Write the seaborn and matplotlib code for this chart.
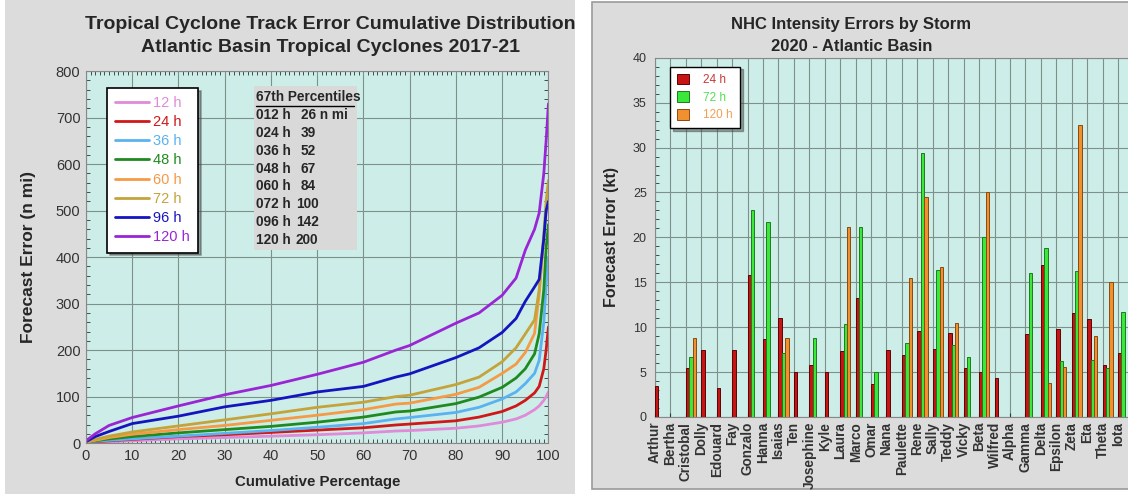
import numpy as np
import pandas as pd
import matplotlib
matplotlib.use("Agg")
import matplotlib.pyplot as plt
from matplotlib.patches import Rectangle
from matplotlib.lines import Line2D
from matplotlib.ticker import MultipleLocator
import seaborn as sns

# --- left panel data: cumulative distribution of track errors (n mi) ---
pct = [0, 2, 5, 10, 20, 30, 40, 50, 60, 67, 70, 80, 85, 90, 93, 95, 97, 98, 99, 99.5, 100]
err_12 = [0, 2, 3, 5, 9, 12, 15, 18, 22, 26, 27, 32, 37, 45, 52, 60, 72, 80, 92, 100, 110]
err_24 = [1, 3, 5, 8, 14, 18, 23, 28, 33, 39, 41, 48, 56, 68, 80, 92, 108, 122, 160, 200, 250]
err_36 = [1, 4, 6, 9, 15, 21, 27, 34, 42, 52, 55, 66, 77, 95, 110, 128, 150, 178, 260, 340, 400]
err_48 = [1, 5, 9, 14, 22, 29, 36, 45, 56, 67, 69, 85, 99, 120, 140, 160, 192, 235, 330, 420, 470]
err_60 = [2, 6, 12, 19, 29, 38, 49, 60, 72, 84, 86, 105, 120, 150, 170, 195, 236, 320, 440, 500, 540]
err_72 = [2, 8, 15, 24, 37, 50, 63, 77, 88, 100, 103, 126, 142, 175, 205, 235, 265, 330, 450, 520, 565]
err_96 = [3, 14, 25, 42, 58, 78, 92, 110, 122, 142, 149, 184, 205, 238, 268, 305, 336, 352, 440, 500, 520]
err_120 = [5, 20, 38, 55, 80, 104, 124, 148, 174, 200, 210, 258, 280, 318, 355, 415, 460, 495, 580, 650, 730]
lead_labels = ["12 h", "24 h", "36 h", "48 h", "60 h", "72 h", "96 h", "120 h"]
lead_colors = ["#e08ad8", "#d01818", "#5ab2f0", "#1f8a1f", "#f59a45", "#c4a33a", "#1515c0", "#9a25d5"]

table_leads = ["012 h", "024 h", "036 h", "048 h", "060 h", "072 h", "096 h", "120 h"]
table_p67 = ["26 n mi", "39", "52", "67", "84", "100", "142", "200"]

# --- right panel data: intensity errors by storm (kt) ---
storms = ["Arthur", "Bertha", "Cristobal", "Dolly", "Edouard", "Fay", "Gonzalo", "Hanna",
          "Isaias", "Ten", "Josephine", "Kyle", "Laura", "Marco", "Omar", "Nana",
          "Paulette", "Rene", "Sally", "Teddy", "Vicky", "Beta", "Wilfred", "Alpha",
          "Gamma", "Delta", "Epsilon", "Zeta", "Eta", "Theta", "Iota"]
int_24 = [3.5, np.nan, 5.5, 7.5, 3.2, 7.5, 15.8, 8.7, 11.0, 5.0, 5.8, 5.0, 7.3, 13.2, 3.7, 7.5,
          6.9, 9.6, 7.6, 9.3, 5.5, 5.0, 4.3, np.nan, 9.2, 16.9, 9.8, 11.6, 10.9, 5.8, 7.1]
int_72 = [np.nan, np.nan, 6.7, np.nan, np.nan, np.nan, 23.1, 21.7, 7.1, np.nan, 8.8, np.nan, 10.4, 21.2, 5.0, np.nan,
          8.2, 29.4, 16.4, 8.0, 6.7, 20.0, np.nan, np.nan, 16.0, 18.8, 6.2, 16.2, 6.3, 5.5, 11.7]
int_120 = [np.nan, np.nan, 8.8, np.nan, np.nan, np.nan, np.nan, np.nan, 8.8, np.nan, np.nan, np.nan, 21.2, np.nan, np.nan, np.nan,
           15.5, 24.5, 16.7, 10.5, np.nan, 25.0, np.nan, np.nan, np.nan, 3.8, 5.6, 32.5, 9.0, 15.0, np.nan]
bar_leads = ["24 h", "72 h", "120 h"]
bar_colors = ["#c81414", "#3ae83a", "#f0902f"]
bar_edges = ["#5a0505", "#1f7a1f", "#8a4a10"]
bar_text = ["#c83a3a", "#55dd55", "#f0a050"]

sns.set_style("ticks")
plt.rcParams["font.family"] = ["Liberation Sans", "DejaVu Sans"]

fig = plt.figure(figsize=(11.28, 4.94), dpi=100)
fig.patch.set_facecolor("white")
fig.patches.append(Rectangle((0.004, 0.0), 0.506, 1.0, transform=fig.transFigure,
                             facecolor="#dcdcdc", edgecolor="none", zorder=-10))
fig.patches.append(Rectangle((0.525, 0.01), 0.48, 0.985, transform=fig.transFigure,
                             facecolor="#dcdcdc", edgecolor="#9a9a9a", lw=1.2, zorder=-10))

bg = "#cdeee8"
gridc = "#7f8f8c"

# ---------------- left panel ----------------
ax1 = fig.add_axes([0.0762, 0.103, 0.410, 0.753])
ax1.set_facecolor(bg)
rows = []
for lab, vals in zip(lead_labels, [err_12, err_24, err_36, err_48, err_60, err_72, err_96, err_120]):
    for p, v in zip(pct, vals):
        rows.append({"pct": p, "err": v, "lead": lab})
df1 = pd.DataFrame(rows)
sns.lineplot(data=df1, x="pct", y="err", hue="lead", hue_order=lead_labels,
             palette=lead_colors, linewidth=2.0, ax=ax1, legend=False)
ax1.set_xlim(0, 100)
ax1.set_ylim(0, 800)
ax1.xaxis.set_major_locator(MultipleLocator(10))
ax1.xaxis.set_minor_locator(MultipleLocator(1))
ax1.yaxis.set_major_locator(MultipleLocator(100))
ax1.yaxis.set_minor_locator(MultipleLocator(20))
ax1.grid(True, which="major", color=gridc, lw=0.8)
ax1.tick_params(which="both", direction="in", top=True, right=True, labelsize=10.5, colors="#333333")
ax1.tick_params(which="major", length=0, pad=4)
ax1.tick_params(which="minor", length=3)
for s in ax1.spines.values():
    s.set_color("#888888")
ax1.set_xlabel("Cumulative Percentage", fontsize=10.8, fontweight="bold", labelpad=9)
ax1.set_ylabel("Forecast Error (n mi)", fontsize=12.5, fontweight="bold", labelpad=14)
fig.text(0.293, 0.968, "Tropical Cyclone Track Error Cumulative Distribution\nAtlantic Basin Tropical Cyclones 2017-21",
         ha="center", va="top", fontsize=14, fontweight="bold", linespacing=1.45)

handles = [Line2D([0], [0], color=c, lw=2) for c in lead_colors]
leg1 = ax1.legend(handles, lead_labels, loc="upper left", bbox_to_anchor=(0.03, 0.975),
                  frameon=True, fancybox=False, shadow=True, labelcolor=lead_colors,
                  fontsize=10.5, handlelength=2.3, handletextpad=0.3, labelspacing=0.36,
                  borderpad=0.55, edgecolor="black")
leg1.get_frame().set_linewidth(1.2)
leg1.get_frame().set_facecolor("white")

# percentile table
tx0, ty0 = 0.367, 0.930
ax1.add_patch(Rectangle((0.364, 0.519), 0.223, 0.441, transform=ax1.transAxes,
                        facecolor="#d9d9d9", edgecolor="none", zorder=3))
ax1.text(tx0, ty0, "67th Percentiles", transform=ax1.transAxes, fontsize=9.8,
         fontweight="bold", va="center", zorder=4)
ax1.plot([tx0, tx0 + 0.212], [ty0 - 0.024, ty0 - 0.024], transform=ax1.transAxes,
         color="black", lw=1, zorder=4)
for k, (a, b) in enumerate(zip(table_leads, table_p67)):
    yy = ty0 - 0.048 * (k + 1)
    ax1.text(tx0, yy, a, transform=ax1.transAxes, fontsize=9.8, fontweight="bold", va="center", zorder=4)
    ax1.text(tx0 + 0.097 if k < 5 else tx0 + 0.087, yy, b, transform=ax1.transAxes, fontsize=9.8,
             fontweight="bold", va="center", zorder=4)

# ---------------- right panel ----------------
ax2 = fig.add_axes([0.5807, 0.156, 0.4193, 0.727])
ax2.set_facecolor(bg)
rows = []
for lab, vals in zip(bar_leads, [int_24, int_72, int_120]):
    for st, v in zip(storms, vals):
        if not np.isnan(v):
            rows.append({"storm": st, "err": v, "lead": lab})
df2 = pd.DataFrame(rows)
sns.barplot(data=df2, x="storm", y="err", hue="lead", order=storms, hue_order=bar_leads,
            palette=bar_colors, width=0.66, errorbar=None, ax=ax2, legend=False,
            linewidth=0.7, saturation=1)
for p in ax2.patches:
    fc = matplotlib.colors.to_hex(p.get_facecolor())
    for c, e in zip(bar_colors, bar_edges):
        if fc.lower() == c.lower():
            p.set_edgecolor(e)
    p.set_zorder(3)
pos = np.arange(len(storms)) - 0.33
ax2.set_xticks(pos)
ax2.set_xticklabels(storms, rotation=90, fontsize=9.8, fontweight="bold")
ax2.set_xlim(-0.33, len(storms) - 0.68)
ax2.set_ylim(0, 40)
ax2.yaxis.set_major_locator(MultipleLocator(5))
ax2.yaxis.set_minor_locator(MultipleLocator(1))
ax2.grid(True, which="major", color=gridc, lw=0.8)
ax2.set_axisbelow(True)
ax2.tick_params(which="both", direction="in", labelsize=9, colors="#333333")
ax2.tick_params(axis="x", labelsize=9.8)
ax2.tick_params(axis="y", which="major", length=0, pad=6)
ax2.tick_params(axis="y", which="minor", length=3, left=True, right=False)
ax2.tick_params(axis="x", length=3)
ax2.spines["right"].set_visible(False)
for s in ax2.spines.values():
    s.set_color("#888888")
ax2.set_xlabel("")
ax2.set_ylabel("Forecast Error (kt)", fontsize=11.5, fontweight="bold", labelpad=10)
ax2.set_title("NHC Intensity Errors by Storm\n2020 - Atlantic Basin", fontsize=12,
              fontweight="bold", pad=5, loc="center", x=0.415, linespacing=1.55)

handles2 = [Rectangle((0, 0), 1, 1, facecolor=c, edgecolor=e, lw=0.7) for c, e in zip(bar_colors, bar_edges)]
leg2 = ax2.legend(handles2, bar_leads, loc="upper left", bbox_to_anchor=(0.02, 0.992),
                  frameon=True, fancybox=False, shadow=True, labelcolor=bar_text,
                  fontsize=8.5, handlelength=1.0, handleheight=1.0, handletextpad=1.2,
                  labelspacing=0.45, borderpad=0.6, edgecolor="black")
leg2.get_frame().set_linewidth(1.0)
leg2.get_frame().set_facecolor("white")

fig.savefig("out.png", dpi=100)
